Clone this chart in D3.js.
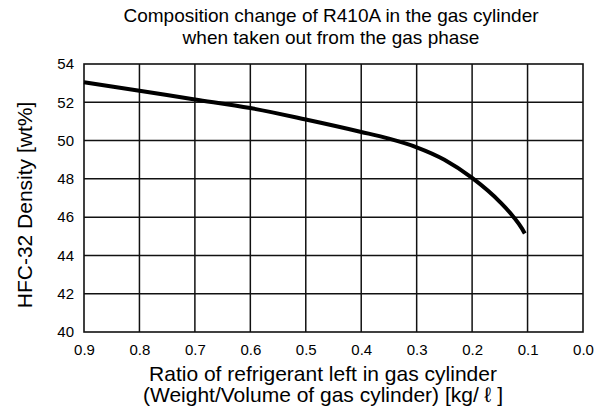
<!DOCTYPE html>
<html>
<head>
<meta charset="utf-8">
<script src="https://cdn.jsdelivr.net/npm/d3@7"></script>
<style>
  html, body { margin: 0; padding: 0; background: #fff; }
  svg { display: block; font-family: "Liberation Sans", Arial, sans-serif; }
</style>
</head>
<body>
<svg id="chart" width="599" height="407"></svg>
<script>
// Data
const ratio   = [0.9, 0.8, 0.7, 0.6, 0.5, 0.4, 0.35, 0.3, 0.25, 0.2, 0.15, 0.125, 0.11, 0.105];
const density = [53.05, 52.6, 52.15, 51.7, 51.1, 50.45, 50.1, 49.65, 49.0, 48.05, 46.8, 46.0, 45.4, 45.15];
const xTicks = [0.9, 0.8, 0.7, 0.6, 0.5, 0.4, 0.3, 0.2, 0.1, 0.0];
const xTickLabels = ["0.9", "0.8", "0.7", "0.6", "0.5", "0.4", "0.3", "0.2", "0.1", "0.0"];
const yTicks = [40, 42, 44, 46, 48, 50, 52, 54];
const titleLines = ["Composition change of R410A in the gas cylinder", "when taken out from the gas phase"];
const xTitleLines = ["Ratio of refrigerant left in gas cylinder", "(Weight/Volume of gas cylinder) [kg/ \u2113 ]"];
const yTitle = "HFC-32 Density [wt%]";

const svg = d3.select("#chart");
const x = d3.scaleLinear().domain([0.9, 0.0]).range([84, 583]);
const y = d3.scaleLinear().domain([40, 54]).range([332, 64]);

// Grid
const grid = svg.append("g").attr("stroke", "#111").attr("stroke-width", 1.5);
grid.selectAll("line.v").data(xTicks.slice(1, -1)).join("line")
  .attr("x1", d => x(d)).attr("x2", d => x(d))
  .attr("y1", y(54)).attr("y2", y(40));
grid.selectAll("line.h").data(yTicks.slice(1, -1)).join("line")
  .attr("x1", x(0.9)).attr("x2", x(0.0))
  .attr("y1", d => y(d)).attr("y2", d => y(d));
svg.append("rect")
  .attr("x", x(0.9)).attr("y", y(54))
  .attr("width", x(0.0) - x(0.9)).attr("height", y(40) - y(54))
  .attr("fill", "none").attr("stroke", "#111").attr("stroke-width", 1.6);

// Axes (labels only)
const xAxis = d3.axisBottom(x).tickValues(xTicks)
  .tickFormat((d, i) => xTickLabels[i]).tickSize(0).tickPadding(12);
const gx = svg.append("g").attr("transform", `translate(0,${y(40)})`).call(xAxis);
gx.select(".domain").remove();
gx.selectAll("text").attr("font-size", 15).attr("fill", "#000")
  .attr("font-family", "Liberation Sans, Arial, sans-serif");

const yAxis = d3.axisLeft(y).tickValues(yTicks).tickFormat(d3.format("d")).tickSize(0).tickPadding(10);
const gy = svg.append("g").attr("transform", `translate(${x(0.9)},0)`).call(yAxis);
gy.select(".domain").remove();
gy.selectAll("text").attr("font-size", 15).attr("fill", "#000")
  .attr("font-family", "Liberation Sans, Arial, sans-serif");

// Curve
const pts = ratio.map((r, i) => [r, density[i]]);
svg.append("path").datum(pts)
  .attr("fill", "none").attr("stroke", "#000").attr("stroke-width", 4)
  .attr("stroke-linecap", "butt")
  .attr("d", d3.line().x(d => x(d[0])).y(d => y(d[1])).curve(d3.curveMonotoneX));

// Titles
svg.append("text").attr("x", 331).attr("y", 22).attr("text-anchor", "middle")
  .attr("font-size", 19).text(titleLines[0]);
svg.append("text").attr("x", 331).attr("y", 44).attr("text-anchor", "middle")
  .attr("font-size", 19).text(titleLines[1]);

svg.append("text").attr("x", 323).attr("y", 381).attr("text-anchor", "middle")
  .attr("font-size", 21).text(xTitleLines[0]);
svg.append("text").attr("x", 323).attr("y", 402).attr("text-anchor", "middle")
  .attr("font-size", 21).text(xTitleLines[1]);

svg.append("text").attr("transform", "translate(32,205) rotate(-90)")
  .attr("text-anchor", "middle").attr("font-size", 21).text(yTitle);
</script>
</body>
</html>
